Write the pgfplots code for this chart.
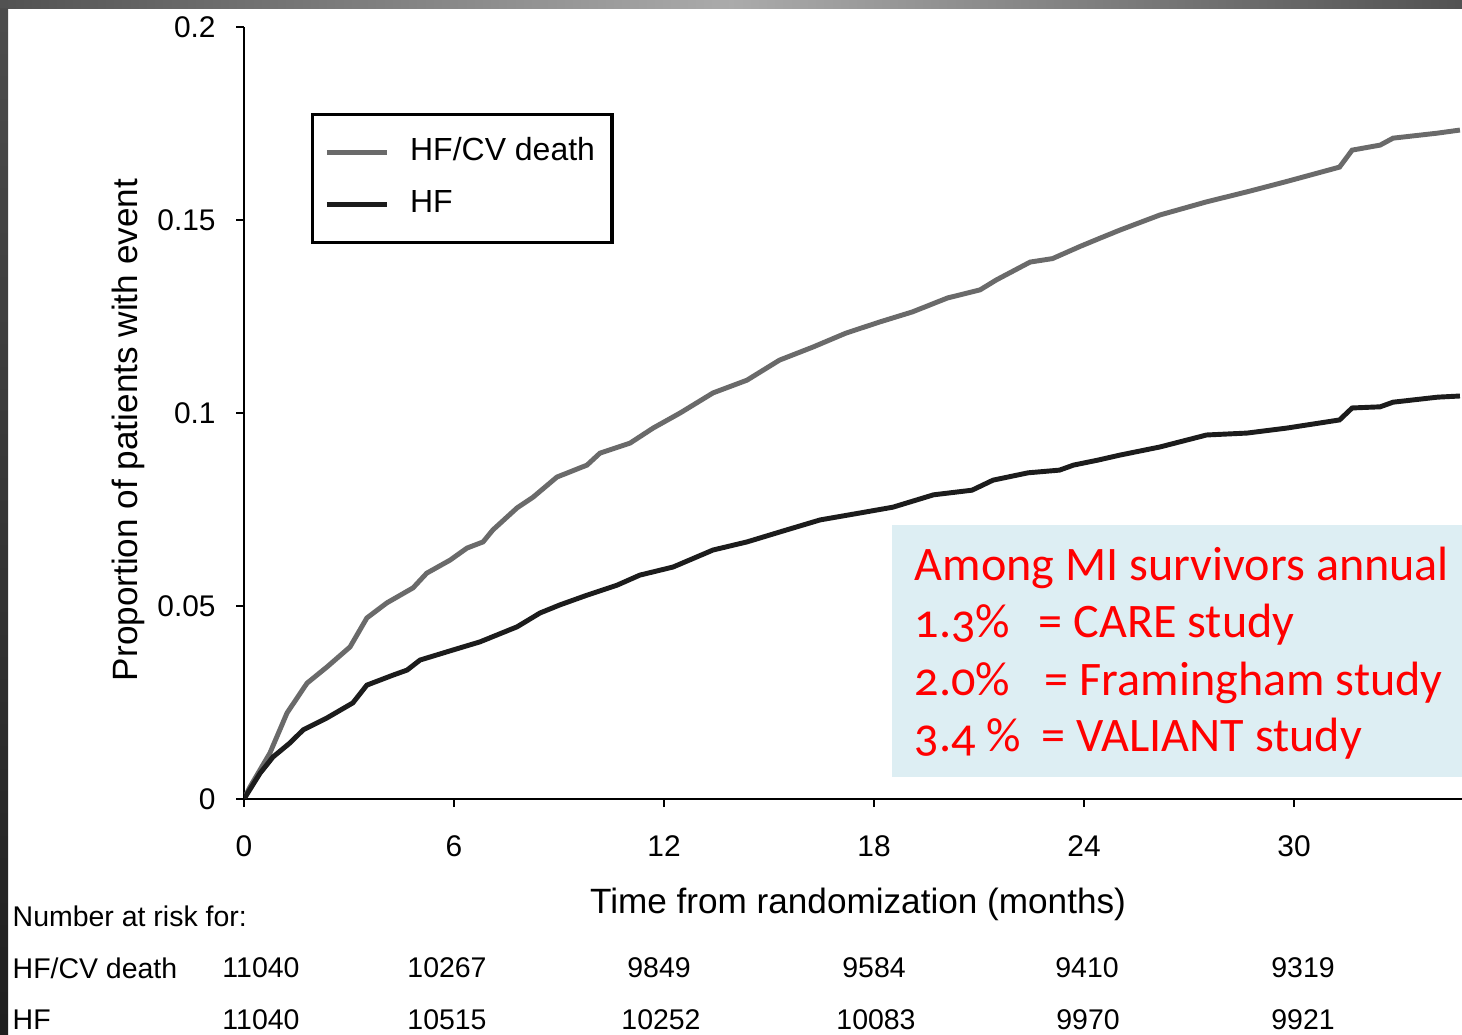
\documentclass[border=0pt]{standalone}
\usepackage{pgfplots}
\pgfplotsset{compat=1.18}
\usepackage{fontspec}
\setmainfont{Liberation Sans}
\newfontfamily\boxfont{Carlito}[Numbers=OldStyle]
\definecolor{hfcv}{RGB}{106,106,106}
\definecolor{hf}{RGB}{28,28,28}
\definecolor{boxbg}{RGB}{221,238,243}
\definecolor{boxred}{RGB}{255,0,0}

\pgfplotstableread{
t p
0 0
0.17 0.0031
0.74 0.0119
1.23 0.0223
1.8 0.0300
2.37 0.0342
3.03 0.0394
3.51 0.0469
4.08 0.0508
4.83 0.0547
5.22 0.0585
5.89 0.0619
6.37 0.0650
6.83 0.0666
7.11 0.0697
7.8 0.0754
8.26 0.0782
8.94 0.0834
9.8 0.0865
10.17 0.0896
11.03 0.0922
11.69 0.0961
12.46 0.1000
13.4 0.1052
14.37 0.1085
15.3 0.1137
16.26 0.1171
17.2 0.1207
18.17 0.1236
19.1 0.1262
20.1 0.1298
21.03 0.1319
21.5 0.1345
22.46 0.1391
23.1 0.1400
23.9 0.1432
24.46 0.1453
25.03 0.1474
26.17 0.1513
27.5 0.1547
28.66 0.1573
29.8 0.1600
31.3 0.1637
31.66 0.1681
32.46 0.1694
32.83 0.1712
34.1 0.1725
34.74 0.1733
}\hfcvdata

\pgfplotstableread{
t p
0 0
0.46 0.0067
0.83 0.0109
1.31 0.0145
1.69 0.0179
2.37 0.0210
3.11 0.0249
3.51 0.0295
4.26 0.0321
4.66 0.0334
5.03 0.0360
5.97 0.0386
6.74 0.0407
7.8 0.0446
8.46 0.0482
9.03 0.0503
9.8 0.0528
10.66 0.0554
11.31 0.0580
12.26 0.0601
13.4 0.0645
14.37 0.0666
15.5 0.0697
16.46 0.0723
17.6 0.0741
18.54 0.0756
19.7 0.0788
20.8 0.0800
21.4 0.0826
22.4 0.0845
23.3 0.0852
23.7 0.0865
24.4 0.0878
25.03 0.0891
26.17 0.0912
27.5 0.0943
28.66 0.0948
29.8 0.0961
31.3 0.0982
31.66 0.1013
32.46 0.1016
32.83 0.1028
34.1 0.1041
34.74 0.1044
}\hfdata

\begin{document}
\begin{tikzpicture}[x=1mm,y=1mm]
\useasboundingbox (0,0) rectangle (146.2,103.4);
\fill[white] (0,0) rectangle (146.2,103.4);
\shade[left color=black!68, right color=black!68, middle color=black!33] (0,102.5) rectangle (146.2,103.4);
\shade[top color=black!70, bottom color=black!88] (0,0) rectangle (0.8,102.5);

\begin{axis}[
  at={(24.4mm,23.5mm)}, anchor=south west,
  scale only axis, width=121.8mm, height=77.2mm,
  xmin=0, xmax=34.8, ymin=0, ymax=0.2,
  axis x line*=bottom, axis y line*=left,
  axis line style={line width=0.8pt, black},
  xtick={0,6,12,18,24,30},
  ytick={0,0.05,0.1,0.15,0.2},
  yticklabels={0,0.05,0.1,0.15,0.2},
  tick align=outside,
  major tick length=0.8mm,
  every tick/.style={black, line width=0.8pt},
  tick label style={font=\fontsize{8.5}{10}\selectfont, /pgf/number format/assume math mode=true},
  xticklabel style={yshift=-1.6mm},
  yticklabel style={xshift=-0.8mm},
  legend style={at={(rel axis cs:0.055,0.8886)}, anchor=north west,
    draw=black, line width=0.9pt, inner xsep=1.2mm, inner ysep=1.9mm,
    font=\fontsize{9.1}{10}\selectfont,
    nodes={inner sep=0.5mm, text height=2.2mm, text depth=0.6mm},
    row sep=1.4mm,
    /tikz/every odd column/.append style={column sep=1.6mm}},
  legend cell align=left,
  legend image code/.code={\draw[#1, line width=1.3pt] (0mm,0mm) -- (6mm,0mm);},
]
\addplot[hfcv, line width=1.4pt] table[x=t, y=p] {\hfcvdata};
\addlegendentry{HF/CV death}
\addplot[hf, line width=1.4pt] table[x=t, y=p] {\hfdata};
\addlegendentry{HF}
\end{axis}

% axis titles
\node[rotate=90, font=\fontsize{10}{12}\selectfont] at (12.8,60.4) {Proportion of patients with event};
\node[font=\fontsize{10}{12}\selectfont] at (85.8,13.0) {Time from randomization (months)};

% number at risk table
\begin{scope}[every node/.style={font=\fontsize{8.1}{10}\selectfont}]
\node[anchor=west, inner xsep=0pt] at (1.2,11.8) {Number at risk for:};
\node[anchor=west, inner xsep=0pt] at (1.2,6.6) {HF/CV death};
\node[anchor=west, inner xsep=0pt] at (1.2,1.4) {HF};
\foreach \x/\v in {26.1/11040, 44.7/10267, 65.9/9849, 87.4/9584, 108.7/9410, 130.3/9319}
  \node at (\x,6.6) {\v};
\foreach \x/\v in {26.1/11040, 44.7/10515, 66.1/10252, 87.6/10083, 108.8/9970, 130.3/9921}
  \node at (\x,1.4) {\v};
\end{scope}

% annotation box
\fill[boxbg] (89.2,25.7) rectangle (146.2,50.9);
\begin{scope}[every node/.style={anchor=base west, inner sep=0pt, text=boxred, font=\boxfont\fontsize{13.7}{16}\selectfont}]
\node at (91.4,45.3) {Among MI survivors annual};
\node at (91.4,39.6) {1.3\%};
\node at (103.8,39.6) {= CARE study};
\node at (91.4,33.8) {2.0\%};
\node at (104.4,33.8) {= Framingham study};
\node at (91.4,28.2) {3.4 \%};
\node at (104.1,28.2) {= VALIANT study};
\end{scope}
\end{tikzpicture}
\end{document}
